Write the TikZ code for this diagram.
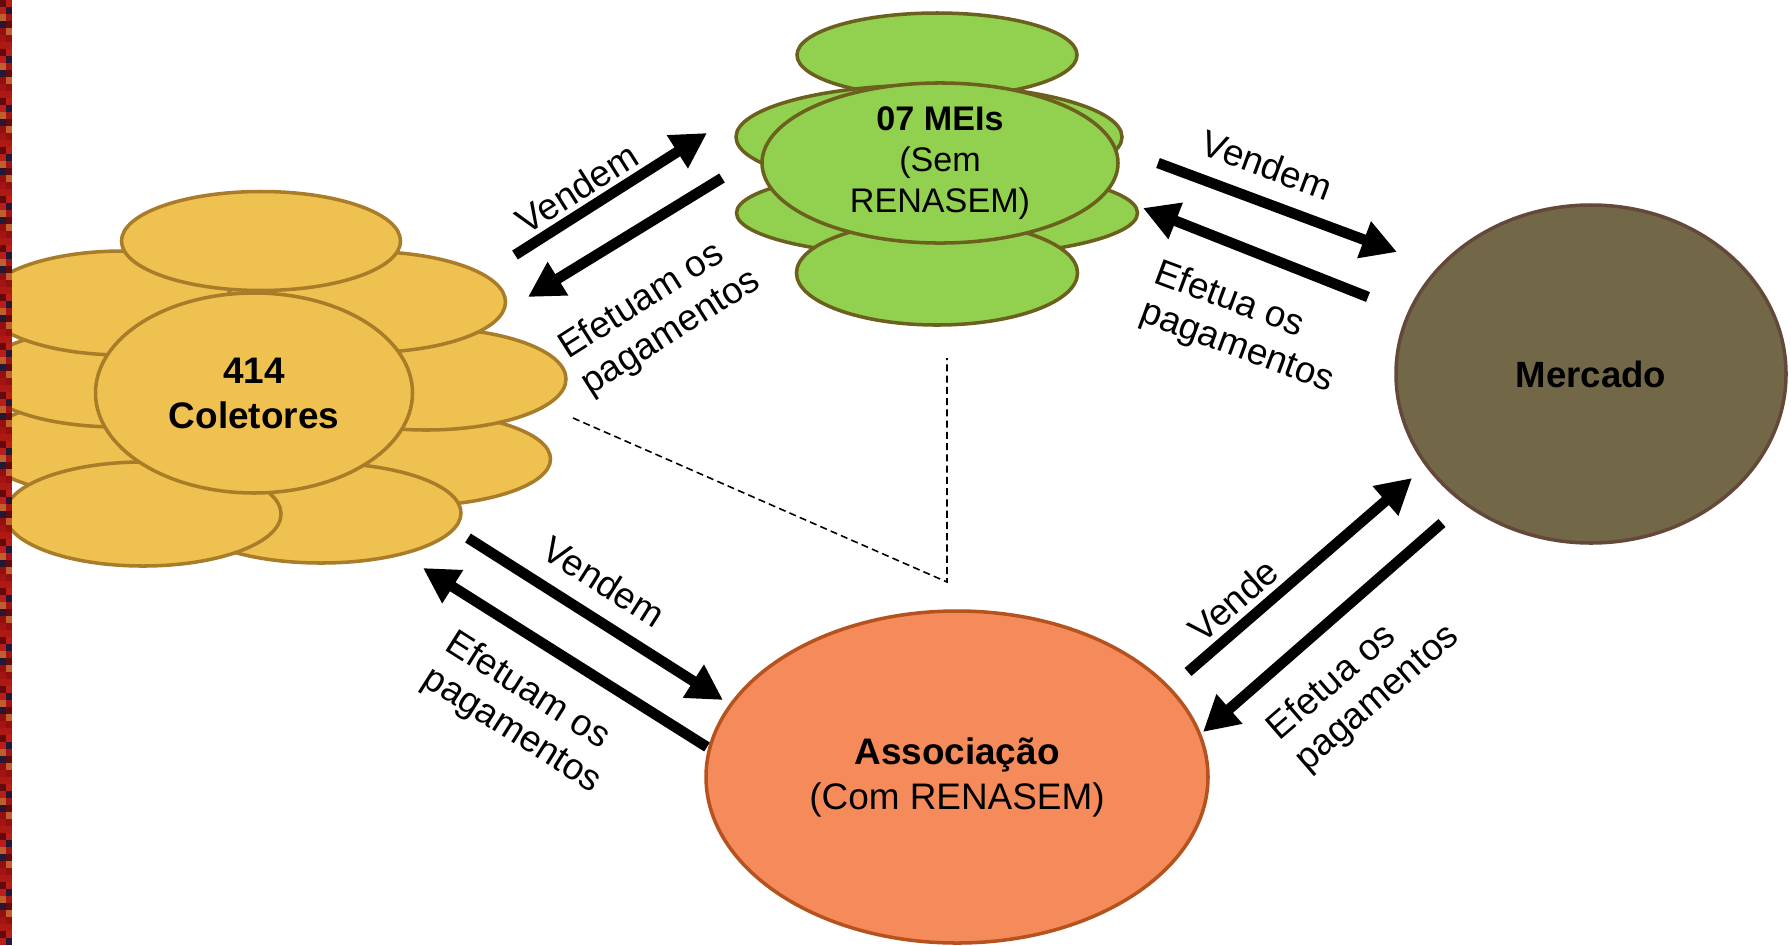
\documentclass[tikz,border=0pt]{standalone}
\usepackage{fontspec}
\setmainfont{Liberation Sans}
\usetikzlibrary{shapes.geometric,arrows.meta}
\definecolor{colFill}{HTML}{EFC150}
\definecolor{colLine}{HTML}{A87C28}
\definecolor{meiFill}{HTML}{92D050}
\definecolor{meiLine}{HTML}{6B601E}
\definecolor{mercFill}{HTML}{726848}
\definecolor{mercLine}{HTML}{64483A}
\definecolor{assFill}{HTML}{F58B5B}
\definecolor{assLine}{HTML}{B5521E}
\definecolor{strip0}{RGB}{165,20,20}
\definecolor{strip1}{RGB}{185,30,25}
\definecolor{strip2}{RGB}{150,15,15}
\definecolor{strip3}{RGB}{100,10,15}
\definecolor{strip4}{RGB}{35,25,55}
\definecolor{strip5}{RGB}{175,25,20}
\definecolor{strip6}{RGB}{190,95,45}
\begin{document}
\begin{tikzpicture}[x=0.01cm,y=-0.01cm,
  sz/.style 2 args={minimum width=#1*0.01cm, minimum height=#2*0.01cm},
  blob/.style={ellipse, draw, inner sep=0pt, line width=1pt},
  colet/.style={blob, fill=colFill, draw=colLine},
  mei/.style={blob, fill=meiFill, draw=meiLine},
  lbl/.style={font=\fontsize{10.5}{11.8}\selectfont, align=left, inner sep=0pt},
  bigarrow/.style={line width=3pt, -{Triangle[length=10pt,width=10.5pt]}},
  guide/.style={line width=0.45pt, dash pattern=on 2pt off 1.2pt}]
\useasboundingbox (0,0) rectangle (1791,945);
\fill[white] (0,0) rectangle (1791,945);
% Coletores cluster
\node[colet, sz={279}{100}] (c1) at (120,447) {};
\node[colet, sz={279}{100}] (c2) at (118,377) {};
\node[colet, sz={279}{104}] (c3) at (123,303) {};
\node[colet, sz={279}{94}]  (c4) at (411,459) {};
\node[colet, sz={280}{102}] (c5) at (426,379) {};
\node[colet, sz={279}{101}] (c6) at (366,302) {};
\node[colet, sz={279}{99}]  (c7) at (261,241) {};
\node[colet, sz={280}{100}] (c8) at (321,513) {};
\node[colet, sz={276}{104}] (c9) at (143,514) {};
\node[colet, sz={317}{200}, align=center, font=\fontsize{10.5}{12.8}\selectfont\bfseries] (colet) at (254,393) {414\\Coletores};
% decorative strip on the left
\foreach \i in {0,...,134} {
  \pgfmathtruncatemacro\ca{mod(\i*5+3,7)}
  \pgfmathtruncatemacro\cb{mod(\i*3+1,7)}
  \fill[strip\ca] (0,\i*7) rectangle (6,\i*7+7);
  \fill[strip\cb] (6,\i*7) rectangle (12,\i*7+7);
}
% MEIs cluster
\node[mei, sz={280}{84}]  (m1) at (937,55) {};
\node[mei, sz={386}{104}] (m2) at (929,137) {};
\node[mei, sz={401}{88}]  (m3) at (937,213) {};
\node[mei, sz={281}{104}] (m4) at (937,273) {};
\node[mei, sz={356}{154}, align=center, font=\fontsize{9.7}{11.7}\selectfont] (meis) at (940,163) {\textbf{07 MEIs}\\(Sem\\RENASEM)};
% Mercado
\node[blob, fill=mercFill, draw=mercLine, sz={390}{338}, font=\fontsize{10.4}{12}\selectfont\bfseries] (merc) at (1591,374) {Mercado};
% Associacao
\node[blob, fill=assFill, draw=assLine, sz={502}{332}, align=center, font=\fontsize{10.5}{12.8}\selectfont] (assoc) at (957,777) {\textbf{Associação}\\(Com RENASEM)};
% dashed guide lines
\coordinate (g1) at (573,418);
\coordinate (g2) at (947,582);
\coordinate (g3) at (947,358);
\draw[guide] (g1) -- (g2) -- (g3);
% arrow end points
\coordinate (a1s) at (515,255); \coordinate (a1e) at (707,133);
\coordinate (a2s) at (722,178); \coordinate (a2e) at (528,297);
\coordinate (a3s) at (1158,163); \coordinate (a3e) at (1397,252);
\coordinate (a4s) at (1368,297); \coordinate (a4e) at (1143,208);
\coordinate (a5s) at (1188,672); \coordinate (a5e) at (1412,478);
\coordinate (a6s) at (1442,523); \coordinate (a6e) at (1203,732);
\coordinate (a7s) at (468,538); \coordinate (a7e) at (723,700);
\coordinate (a8s) at (707,747); \coordinate (a8e) at (423,568);
\draw[bigarrow] (a1s) -- (a1e);
\draw[bigarrow] (a2s) -- (a2e);
\draw[bigarrow] (a3s) -- (a3e);
\draw[bigarrow] (a4s) -- (a4e);
\draw[bigarrow] (a5s) -- (a5e);
\draw[bigarrow] (a6s) -- (a6e);
\draw[bigarrow] (a7s) -- (a7e);
\draw[bigarrow] (a8s) -- (a8e);
% labels
\node[lbl, rotate=32.4] (l1) at (577,188) {Vendem};
\node[lbl, rotate=32.4] (l2) at (660,315) {Efetuam os\\pagamentos};
\node[lbl, rotate=-20.4] (l3) at (1267,165) {Vendem};
\node[lbl, rotate=-20.4] (l4) at (1244,328) {Efetua os\\pagamentos};
\node[lbl, rotate=40.9] (l5) at (1233,600) {Vende};
\node[lbl, rotate=40.9] (l6) at (1364,683) {Efetua os\\pagamentos};
\node[lbl, rotate=-32.4] (l7) at (604,582) {Vendem};
\node[lbl, rotate=-32.4] (l8) at (523,713) {Efetuam os\\pagamentos};
\end{tikzpicture}
\end{document}
